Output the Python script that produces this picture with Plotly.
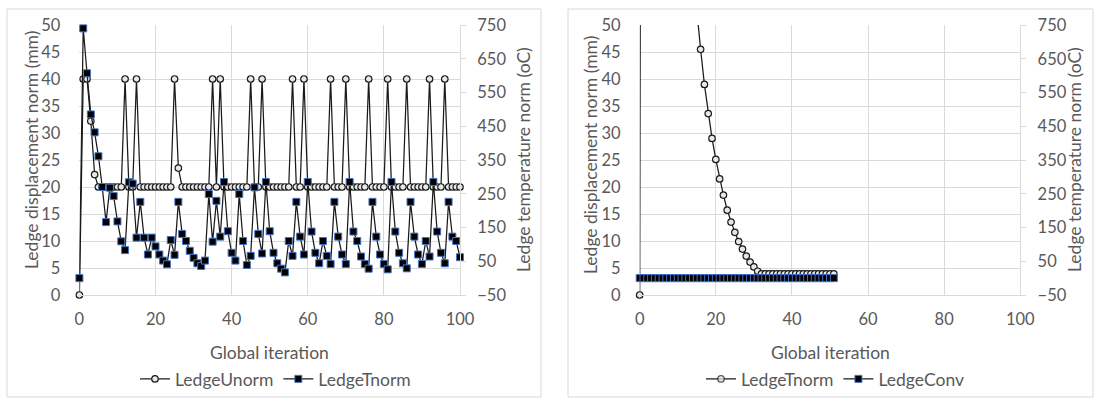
import plotly.graph_objects as go

# ---------------- data ----------------
iter_left = list(range(0, 101))
ledge_unorm = [0, 40, 40, 32.2, 22.3, 20, 20, 20, 20, 20,
               20, 20, 40, 20, 20, 40, 20, 20, 20, 20,
               20, 20, 20, 20, 20, 40, 23.5, 20, 20, 20,
               20, 20, 20, 20, 20, 40, 20, 40, 20, 20,
               20, 20, 20, 20, 20, 40, 20, 20, 40, 20,
               20, 20, 20, 20, 20, 20, 40, 20, 20, 40,
               20, 20, 20, 20, 20, 20, 40, 20, 20, 20,
               40, 20, 20, 20, 20, 20, 40, 20, 20, 20,
               20, 40, 20, 20, 20, 20, 40, 20, 20, 20,
               20, 20, 40, 20, 20, 20, 40, 20, 20, 20,
               20]
ledge_tnorm_left = [0, 740, 607, 485, 432, 361, 270, 166, 268, 243,
                    168, 109, 83, 284, 280, 120, 226, 120, 70, 120,
                    94, 70, 52, 41, 113, 69, 226, 131, 110, 81,
                    60, 44, 36, 52, 249, 108, 229, 123, 285, 139,
                    75, 52, 249, 110, 39, 66, 269, 131, 73, 285,
                    139, 75, 44, 28, 17, 110, 66, 226, 123, 70,
                    285, 138, 75, 44, 110, 66, 42, 226, 123, 70,
                    42, 285, 138, 110, 64, 42, 28, 226, 123, 70,
                    42, 26, 285, 138, 75, 44, 29, 226, 123, 70,
                    42, 110, 64, 285, 138, 75, 44, 226, 123, 110,
                    62]

iter_right = list(range(0, 52))
ledge_tnorm_right = [0, 370, 320, 280, 245, 212, 185, 160, 140, 122,
                     106, 92, 80, 69, 60, 52, 45.5, 39.0, 33.6, 29.0,
                     25.1, 21.5, 18.5, 15.7, 13.5, 11.6, 9.9, 8.5, 7.2, 6.1,
                     5.2, 4.4, 3.9, 3.9, 3.9, 3.9, 3.9, 3.9, 3.9, 3.9,
                     3.9, 3.9, 3.9, 3.9, 3.9, 3.9, 3.9, 3.9, 3.9, 3.9,
                     3.9, 3.9]
ledge_conv = [0] * 52

x_ticks = [0, 20, 40, 60, 80, 100]
y_left_ticks = [0, 5, 10, 15, 20, 25, 30, 35, 40, 45, 50]
y_right_ticks = [-50, 50, 150, 250, 350, 450, 550, 650, 750]
Y_LEFT_MAX = 50

# ---------------- style ----------------
W, H = 1094, 399
FONT = "Lato, Open Sans, sans-serif"
TXT = "#595959"
GRID = "#d9d9d9"
FS = 17.5
TFS = 16.5
LINE = "#1a1a1a"

def px(x):
    return x / W

def py(y):
    return (H - y) / H

circle_marker = dict(symbol="circle", size=6.5, color="#e8e8e8",
                     line=dict(color="#1a1a1a", width=1.2))
square_marker = dict(symbol="square", size=7, color="#000000",
                     line=dict(color="#4472c4", width=1))

# markers outside the plotted range are hidden (Excel clips them)
right_circle_marker = dict(circle_marker)
right_circle_marker["opacity"] = [1 if v <= Y_LEFT_MAX else 0 for v in ledge_tnorm_right]

fig = go.Figure()

fig.add_trace(go.Scatter(x=iter_left, y=ledge_unorm, name="LedgeUnorm",
                         mode="lines+markers", line=dict(color=LINE, width=1.25),
                         marker=circle_marker, xaxis="x", yaxis="y",
                         legend="legend", cliponaxis=False))
fig.add_trace(go.Scatter(x=iter_left, y=ledge_tnorm_left, name="LedgeTnorm",
                         mode="lines+markers", line=dict(color=LINE, width=1.25),
                         marker=square_marker, xaxis="x", yaxis="y2",
                         legend="legend", cliponaxis=False))
fig.add_trace(go.Scatter(x=iter_right, y=ledge_tnorm_right, name="LedgeTnorm",
                         mode="lines+markers", line=dict(color=LINE, width=1.25),
                         marker=right_circle_marker, xaxis="x2", yaxis="y3",
                         legend="legend2", cliponaxis=False))
fig.add_trace(go.Scatter(x=iter_right, y=ledge_conv, name="LedgeConv",
                         mode="lines+markers", line=dict(color=LINE, width=1.25),
                         marker=square_marker, xaxis="x2", yaxis="y4",
                         legend="legend2", cliponaxis=False))

x1d = [px(79.4), px(460.0)]
x2d = [px(639.7), px(1020.3)]
yd = [py(295), py(25)]

tickfont = dict(family=FONT, size=TFS, color=TXT)

def xax(domain, anchor):
    return dict(domain=domain, anchor=anchor, range=[0, 100], tickvals=x_ticks,
                showgrid=True, gridcolor=GRID, gridwidth=1, zeroline=False,
                showline=True, linecolor=GRID, linewidth=1, ticks="",
                tickfont=tickfont, ticklabelstandoff=9, fixedrange=True,
                automargin=False)

def yax_left(anchor):
    return dict(domain=yd, anchor=anchor, range=[0, Y_LEFT_MAX], tickvals=y_left_ticks,
                showgrid=True, gridcolor=GRID, gridwidth=1, zeroline=False,
                showline=False, ticks="", tickfont=tickfont,
                ticklabelstandoff=18, fixedrange=True, automargin=False)

def yax_right(anchor, overlay):
    return dict(domain=yd, anchor=anchor, overlaying=overlay, side="right",
                range=[-50, 750], tickvals=y_right_ticks, showgrid=False,
                zeroline=False, showline=True, linecolor=GRID, linewidth=1,
                ticks="outside", ticklen=5, tickcolor=GRID, tickfont=tickfont,
                ticklabelstandoff=8, fixedrange=True, automargin=False)

fig.update_layout(
    width=W, height=H,
    margin=dict(l=0, r=0, t=0, b=0, autoexpand=False),
    paper_bgcolor="white", plot_bgcolor="white",
    font=dict(family=FONT, size=FS, color=TXT),
    xaxis=xax(x1d, "y"),
    yaxis=yax_left("x"),
    yaxis2=yax_right("x", "y"),
    xaxis2=xax(x2d, "y3"),
    yaxis3=yax_left("x2"),
    yaxis4=yax_right("x2", "y3"),
    legend=dict(orientation="h", x=px(275.5), y=py(379), xanchor="center",
                yanchor="middle", bgcolor="rgba(0,0,0,0)",
                font=dict(family=FONT, size=FS, color=TXT), itemwidth=30),
    legend2=dict(orientation="h", x=px(835), y=py(379), xanchor="center",
                 yanchor="middle", bgcolor="rgba(0,0,0,0)",
                 font=dict(family=FONT, size=FS, color=TXT), itemwidth=30),
    showlegend=True,
)

# chart borders
fig.add_shape(type="rect", xref="paper", yref="paper",
              x0=px(7), x1=px(541), y0=py(397), y1=py(9),
              line=dict(color=GRID, width=1), fillcolor="rgba(0,0,0,0)", layer="below")
fig.add_shape(type="rect", xref="paper", yref="paper",
              x0=px(568), x1=px(1093), y0=py(397), y1=py(9),
              line=dict(color=GRID, width=1), fillcolor="rgba(0,0,0,0)", layer="below")

annots = [
    dict(text="Ledge displacement norm (mm)", x=px(31), y=py(150), textangle=-90),
    dict(text="Ledge temperature norm (oC)", x=px(523), y=py(160), textangle=-90),
    dict(text="Global iteration", x=px(269.7), y=py(352), textangle=0),
    dict(text="Ledge displacement norm (mm)", x=px(590), y=py(155), textangle=-90),
    dict(text="Ledge temperature norm (oC)", x=px(1074), y=py(160), textangle=-90),
    dict(text="Global iteration", x=px(830), y=py(352), textangle=0),
]
for a in annots:
    fig.add_annotation(xref="paper", yref="paper", xanchor="center", yanchor="middle",
                       showarrow=False, font=dict(family=FONT, size=FS, color=TXT), **a)

fig.write_html("out.html")
